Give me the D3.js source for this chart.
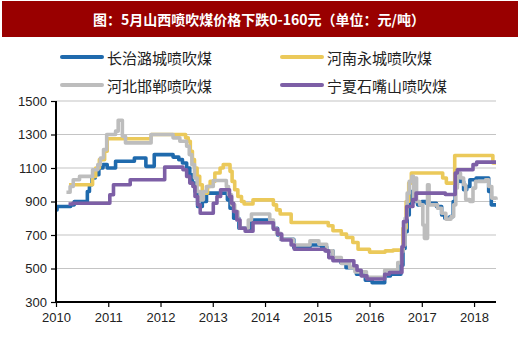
<!DOCTYPE html>
<html><head><meta charset="utf-8">
<script src="https://cdn.jsdelivr.net/npm/d3@7"></script>
<style>
html,body{margin:0;padding:0;background:#fff;}
svg{display:block;}
</style></head>
<body>
<svg id="chart" width="520" height="339"></svg>
<script>
const titleText = "图：5月山西喷吹煤价格下跌0-160元（单位：元/吨）";
const seriesNames = ["长治潞城喷吹煤", "河南永城喷吹煤", "河北邯郸喷吹煤", "宁夏石嘴山喷吹煤"];
const seriesColors = ["#1f6aad", "#ebc95a", "#bdbdbd", "#7d5fa6"];
const xTicks = [2010, 2011, 2012, 2013, 2014, 2015, 2016, 2017, 2018];
const yTicks = [300, 500, 700, 900, 1100, 1300, 1500];
const xEnd = 2018.42;

// 长治潞城 (blue) — change points
const blueYears = [2010.00,2010.02,2010.28,2010.35,2010.60,2010.64,2010.69,2010.75,2010.82,2010.90,2010.98,2011.14,2011.50,2011.72,2011.88,2012.24,2012.35,2012.42,2012.50,2012.56,2012.61,2012.66,2012.71,2012.80,2012.88,2013.28,2013.33,2013.40,2013.50,2013.64,2013.74,2014.10,2014.16,2014.24,2014.30,2014.55,2014.86,2015.08,2015.18,2015.30,2015.45,2015.55,2015.75,2015.92,2016.05,2016.29,2016.40,2016.60,2016.64,2016.68,2016.72,2016.76,2016.80,2016.86,2016.92,2017.00,2017.08,2017.28,2017.38,2017.44,2017.54,2017.60,2017.64,2017.68,2017.74,2017.80,2017.86,2017.92,2018.04,2018.28,2018.33,2018.42];
const blueValues = [850,870,880,900,960,1000,1040,1060,1100,1120,1100,1140,1160,1110,1180,1165,1150,1130,1100,1060,1010,960,870,900,950,910,860,800,740,735,790,780,740,700,675,625,640,630,605,560,535,505,466,430,415,455,466,520,620,720,820,910,960,900,880,900,890,870,820,800,810,900,1000,1050,1020,970,990,1030,1040,960,880,880];

// 河南永城 (yellow)
const yellowYears = [2010.25,2010.70,2010.76,2010.83,2010.93,2010.98,2011.82,2012.48,2012.53,2012.57,2012.61,2012.65,2012.70,2012.75,2012.80,2012.90,2012.95,2013.04,2013.14,2013.20,2013.33,2013.37,2013.42,2013.48,2013.55,2013.60,2013.77,2014.16,2014.22,2014.29,2014.50,2015.21,2015.30,2015.46,2015.56,2015.68,2015.78,2016.00,2016.30,2016.45,2016.64,2016.70,2016.75,2016.80,2017.40,2017.47,2017.63,2018.36,2018.42];
const yellowValues = [1000,1050,1100,1150,1200,1275,1300,1280,1260,1200,1150,1100,1050,1000,950,990,1020,1070,1100,1120,1080,1020,970,930,900,885,910,880,850,825,775,755,725,705,685,655,615,598,605,610,740,900,1010,1070,1040,1010,1175,1130,1130];

// 河北邯郸 (gray)
const grayYears = [2010.20,2010.27,2010.33,2010.45,2010.70,2010.80,2010.85,2010.91,2010.97,2011.14,2011.19,2011.27,2011.33,2011.82,2012.24,2012.37,2012.50,2012.55,2012.60,2012.65,2012.70,2012.76,2012.82,2012.88,2013.01,2013.26,2013.30,2013.36,2013.42,2013.48,2013.52,2013.68,2013.74,2014.09,2014.16,2014.22,2014.30,2014.54,2014.86,2015.03,2015.18,2015.30,2015.46,2015.62,2015.72,2015.94,2016.29,2016.54,2016.61,2016.64,2016.68,2016.72,2016.76,2016.81,2016.84,2016.87,2016.90,2016.96,2017.02,2017.05,2017.11,2017.14,2017.30,2017.38,2017.46,2017.56,2017.61,2017.65,2017.68,2017.74,2017.80,2017.84,2017.92,2017.98,2018.03,2018.22,2018.28,2018.34,2018.42];
const grayValues = [955,990,1030,1050,1090,1120,1160,1210,1300,1320,1385,1290,1250,1300,1280,1260,1230,1180,1120,1040,960,910,960,990,1025,990,940,880,840,790,740,790,825,790,740,710,675,640,665,645,605,565,530,505,480,447,490,535,600,640,800,950,1020,1050,920,1040,900,880,760,680,1000,880,860,830,795,810,880,980,1070,1040,1000,912,900,980,1020,1030,990,920,910];

// 宁夏石嘴山 (purple)
const purpleYears = [2010.24,2010.32,2011.03,2011.10,2011.42,2012.08,2012.43,2012.50,2012.56,2012.62,2012.66,2012.71,2012.76,2013.01,2013.08,2013.15,2013.32,2013.36,2013.40,2013.46,2013.52,2013.62,2013.77,2014.16,2014.24,2014.32,2014.50,2014.56,2015.15,2015.22,2015.30,2015.70,2015.76,2015.84,2015.95,2016.29,2016.38,2016.62,2016.65,2016.71,2016.83,2016.89,2017.45,2017.64,2017.68,2017.98,2018.05,2018.42];
const purpleValues = [885,890,940,1000,1030,1105,1090,1050,1010,990,930,880,830,890,930,970,930,890,840,790,740,722,773,735,705,670,640,615,605,565,546,516,490,456,437,466,476,630,780,870,912,950,942,1070,1090,1120,1135,1135];

const svg = d3.select("#chart");
const font = "'Liberation Sans', Arial, sans-serif";
const cjk = "'Noto Sans CJK SC', 'Noto Sans', sans-serif";

// title bar
svg.append("rect").attr("x", 2).attr("y", 1).attr("width", 516).attr("height", 36).attr("fill", "#990000");
svg.append("text").attr("x", 259).attr("y", 19).attr("text-anchor", "middle").attr("dominant-baseline", "central")
  .attr("fill", "#fff").attr("font-family", cjk).attr("font-weight", "bold").attr("font-size", 14).text(titleText);

const x = d3.scaleLinear().domain([2010, xEnd]).range([56, 496]);
const y = d3.scaleLinear().domain([300, 1500]).range([302, 101]);

// gridlines
svg.append("g").selectAll("line").data(yTicks.filter(v => v > 300)).join("line")
  .attr("x1", 56).attr("x2", 496).attr("y1", d => y(d)).attr("y2", d => y(d))
  .attr("stroke", "#c4c4c4").attr("stroke-width", 1.2);

// series
const series = [
  {years: blueYears, values: blueValues},
  {years: yellowYears, values: yellowValues},
  {years: grayYears, values: grayValues},
  {years: purpleYears, values: purpleValues}
];
const line = d3.line().x(d => x(d[0])).y(d => y(d[1])).curve(d3.curveStepAfter);
series.forEach((s, i) => {
  const pts = s.years.map((yr, k) => [yr, s.values[k]]);
  svg.append("path").datum(pts).attr("d", line).attr("fill", "none")
    .attr("stroke", seriesColors[i]).attr("stroke-width", 3.6).attr("stroke-linejoin", "round");
});

// axes
const yAxis = d3.axisLeft(y).tickValues(yTicks).tickSize(5).tickPadding(4).tickFormat(d3.format("d"));
const gy = svg.append("g").attr("transform", "translate(56,0)").call(yAxis);
const xAxis = d3.axisBottom(x).tickValues(xTicks).tickSize(5).tickPadding(6).tickFormat(d3.format("d"));
const gx = svg.append("g").attr("transform", "translate(0,302)").call(xAxis);
[gx, gy].forEach(g => {
  g.select(".domain").attr("stroke", "#000").attr("stroke-width", 2);
  g.selectAll(".tick line").attr("stroke", "#000").attr("stroke-width", 1.2);
  g.selectAll(".tick text").attr("font-family", font).attr("font-size", 13).attr("fill", "#222");
});
gx.select(".domain").attr("d", "M56,0H496");
gy.select(".domain").attr("d", "M0,302V101");

// legend
const legendPos = [[62, 57], [282, 57], [62, 85], [282, 85]];
seriesNames.forEach((name, i) => {
  const [lx, ly] = legendPos[i];
  svg.append("line").attr("x1", lx).attr("x2", lx + 40).attr("y1", ly).attr("y2", ly)
    .attr("stroke", seriesColors[i]).attr("stroke-width", 4).attr("stroke-linecap", "round");
  svg.append("text").attr("x", lx + 45).attr("y", ly).attr("dominant-baseline", "central")
    .attr("font-family", cjk).attr("font-size", 15).attr("fill", "#222").text(name);
});
</script>
</body></html>
